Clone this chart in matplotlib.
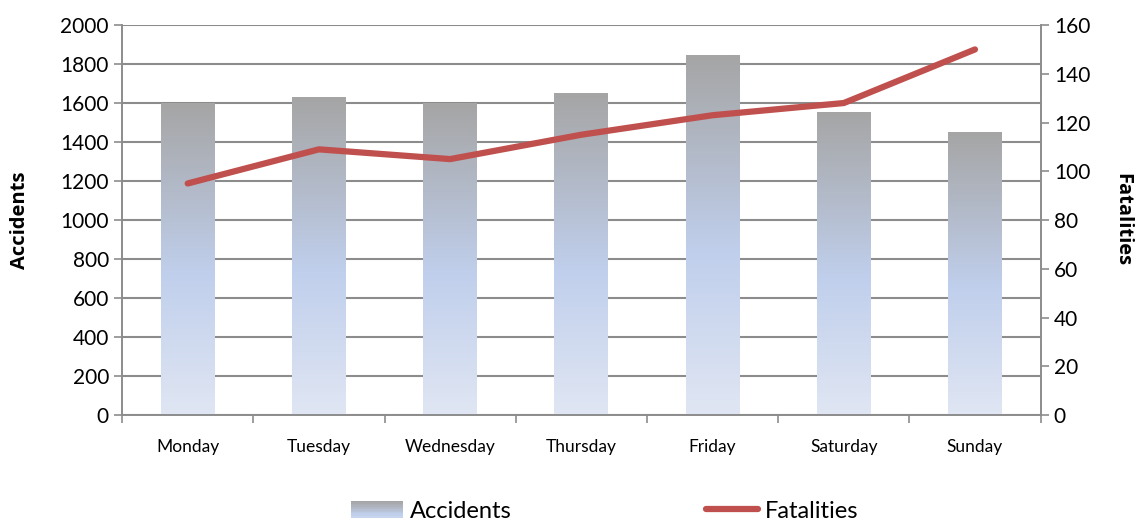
import numpy as np
import matplotlib
matplotlib.use("Agg")
import matplotlib.pyplot as plt
from matplotlib.colors import LinearSegmentedColormap
from matplotlib.patches import Rectangle
from matplotlib.lines import Line2D
from matplotlib.legend_handler import HandlerBase

plt.rcParams['font.family'] = ['Lato', 'DejaVu Sans']

days = ["Monday", "Tuesday", "Wednesday", "Thursday", "Friday", "Saturday", "Sunday"]
accidents = [1600, 1630, 1600, 1650, 1845, 1555, 1450]
fatalities = [95, 109, 105, 115, 123, 128, 150]

# gray at top -> light blue -> pale at the bottom
grad = LinearSegmentedColormap.from_list(
    "bar", [(0.0, "#e0e6f3"), (0.45, "#c0cfec"), (1.0, "#a5a5a5")])


class GradientHandler(HandlerBase):
    def create_artists(self, legend, orig, xd, yd, w, h, fontsize, trans):
        n = 12
        out = []
        for i in range(n):
            r = Rectangle((xd, yd + h * i / n), w, h / n + 0.2,
                          facecolor=grad(0.35 + 0.65 * i / (n - 1)),
                          edgecolor="none", transform=trans)
            out.append(r)
        return out


fig = plt.figure(figsize=(11.41, 5.22), dpi=100)
ax = fig.add_axes([0.107, 0.205, 0.805, 0.747])
ax2 = ax.twinx()

x = np.arange(len(days))
bars = ax.bar(x, accidents, width=0.41, color="none", zorder=2)
img = np.linspace(0, 1, 256).reshape(-1, 1)
for b in bars:
    x0, w, hgt = b.get_x(), b.get_width(), b.get_height()
    im = ax.imshow(img, cmap=grad, origin="lower", aspect="auto",
                   extent=[x0, x0 + w, 0, hgt], zorder=2)
    im.set_clip_path(b)

ax.set_xlim(-0.5, len(days) - 0.5)
ax.set_ylim(0, 2000)
ax.set_yticks(range(0, 2001, 200))
ax.set_xticks(x)
ax.set_xticklabels(days, fontsize=12.5)
ax.set_xticks(np.arange(-0.5, len(days), 1), minor=True)
ax.tick_params(axis="x", which="major", length=0, pad=17)
ax.tick_params(axis="x", which="minor", length=6, color="#8c8c8c", width=1.2)
ax.tick_params(axis="y", labelsize=15, length=6, color="#8c8c8c", width=1.2)
ax.grid(axis="y", color="#8c8c8c", linewidth=1.5, zorder=0)
ax.set_axisbelow(True)
ax.set_ylabel("Accidents", fontsize=14.5, fontweight="bold", labelpad=22,
              family=["Open Sans", "DejaVu Sans"])

ax2.plot(x, fatalities, color="#c0504d", linewidth=4.5,
         solid_capstyle="round", zorder=3)
ax2.set_ylim(0, 160)
ax2.set_yticks(range(0, 161, 20))
ax2.tick_params(axis="y", labelsize=15, length=6, color="#8c8c8c", width=1.2)
ax2.set_ylabel("Fatalities", fontsize=14.5, fontweight="bold",
               rotation=-90, labelpad=30, family=["Open Sans", "DejaVu Sans"])

for a in (ax, ax2):
    for s in a.spines.values():
        s.set_color("#8c8c8c")
        s.set_linewidth(1.2)
    a.spines["top"].set_visible(False)

handles = [Rectangle((0, 0), 1, 1), Line2D([], [], color="#c0504d", linewidth=4.5,
                                            solid_capstyle="round")]
fig.legend(handles, ["Accidents", "Fatalities"], loc="lower center",
           bbox_to_anchor=(0.53, -0.04), ncol=2, frameon=False, fontsize=17,
           handler_map={Rectangle: GradientHandler()}, columnspacing=8.2,
           handlelength=2.2, handletextpad=0.3)

fig.savefig("out.png", dpi=100)
